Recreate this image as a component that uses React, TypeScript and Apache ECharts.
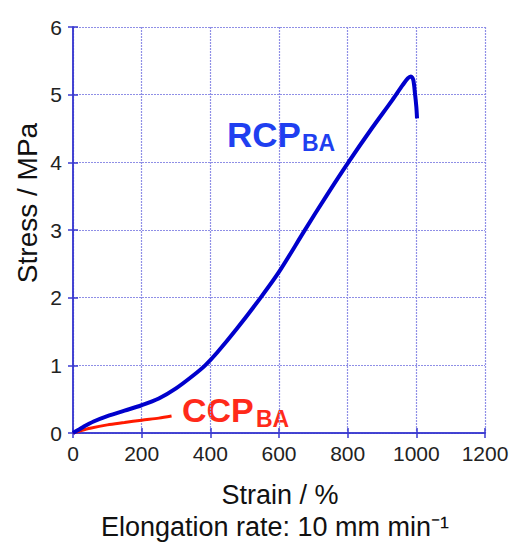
import React, { useEffect, useRef } from "react";
import * as echarts from "echarts";

const rcpStrain = [0, 30, 60, 100, 150, 200, 250, 300, 350, 385, 420, 477, 545, 600, 673, 740, 802, 870, 930, 960, 975, 984, 991, 996, 1000, 1002];
const rcpStress = [0, 0.09, 0.17, 0.25, 0.33, 0.41, 0.51, 0.66, 0.85, 1.0, 1.19, 1.54, 1.99, 2.38, 2.98, 3.52, 4.0, 4.5, 4.92, 5.14, 5.24, 5.27, 5.22, 5.02, 4.82, 4.65];
const ccpStrain = [0, 20, 50, 100, 150, 200, 250, 287];
const ccpStress = [0, 0.03, 0.07, 0.12, 0.155, 0.19, 0.22, 0.25];
const xTicks = { min: 0, max: 1200, interval: 200 };
const yTicks = { min: 0, max: 6, interval: 1 };

const FONT = '"Liberation Sans", Arial, Helvetica, sans-serif';
const AXIS_COLOR = "#3a3ad0";
const GRID_COLOR = "#8f8fe6";

export default function App() {
  const ref = useRef<HTMLDivElement>(null);
  useEffect(() => {
    const chart = echarts.init(ref.current!, null, { renderer: "svg" });
    const axisCommon = {
      type: "value",
      axisLine: { show: true, lineStyle: { color: AXIS_COLOR, width: 1.5 } },
      axisTick: { show: true, inside: true, length: 5, lineStyle: { color: AXIS_COLOR, width: 1.5 } },
    };
    chart.setOption({
      animation: false,
      grid: { left: 73, top: 27, width: 412, height: 406, containLabel: false },
      xAxis: [
        {
          ...axisCommon,
          position: "bottom",
          ...xTicks,
          axisLabel: { color: "#222", fontSize: 21, fontFamily: FONT, margin: 10, formatter: (v: number) => String(v) },
          splitLine: { show: true, lineStyle: { color: GRID_COLOR, type: [2, 1], width: 1.2 } },
        },
        {
          ...axisCommon,
          position: "top",
          ...xTicks,
          axisLabel: { show: false },
          splitLine: { show: false },
        },
      ],
      yAxis: [
        {
          ...axisCommon,
          position: "left",
          ...yTicks,
          axisLabel: { color: "#222", fontSize: 21, fontFamily: FONT, margin: 11, formatter: (v: number) => String(v) },
          splitLine: { show: true, lineStyle: { color: GRID_COLOR, type: [2, 1], width: 1.2 } },
        },
        {
          ...axisCommon,
          position: "right",
          ...yTicks,
          axisLabel: { show: false },
          splitLine: { show: false },
        },
      ],
      series: [
        {
          type: "line",
          data: ccpStrain.map((x, i) => [x, ccpStress[i]]),
          showSymbol: false,
          smooth: 0.3,
          lineStyle: { color: "#ff1a00", width: 3 },
          z: 3,
        },
        {
          type: "line",
          data: rcpStrain.map((x, i) => [x, rcpStress[i]]),
          showSymbol: false,
          smooth: 0.3,
          lineStyle: { color: "#0000cc", width: 4 },
          z: 4,
        },
      ],
      graphic: [
        { type: "text", x: 227, y: 134.5, style: { text: "RCP", fill: "#1f3ff0", font: `bold 35px ${FONT}`, textAlign: "left", textVerticalAlign: "middle" } },
        { type: "text", x: 302, y: 143, style: { text: "BA", fill: "#1f3ff0", font: `bold 23px ${FONT}`, textAlign: "left", textVerticalAlign: "middle" } },
        { type: "text", x: 182, y: 410, style: { text: "CCP", fill: "#ff2a1a", font: `bold 34px ${FONT}`, textAlign: "left", textVerticalAlign: "middle" } },
        { type: "text", x: 256, y: 418.5, style: { text: "BA", fill: "#ff2a1a", font: `bold 23px ${FONT}`, textAlign: "left", textVerticalAlign: "middle" } },
        { type: "text", x: 280, y: 495, style: { text: "Strain / %", fill: "#111", font: `27px ${FONT}`, textAlign: "center", textVerticalAlign: "middle" } },
        { type: "text", x: 275, y: 527, style: { text: "Elongation rate: 10 mm min\u207B\u00B9", fill: "#111", font: `27px ${FONT}`, textAlign: "center", textVerticalAlign: "middle" } },
        { type: "text", x: 27, y: 203, rotation: Math.PI / 2, style: { text: "Stress / MPa", fill: "#111", font: `28px ${FONT}`, textAlign: "center", textVerticalAlign: "middle" } },
      ],
    });
    return () => chart.dispose();
  }, []);
  return <div ref={ref} style={{ position: "absolute", left: 0, top: 0, width: 513, height: 543 }} />;
}
